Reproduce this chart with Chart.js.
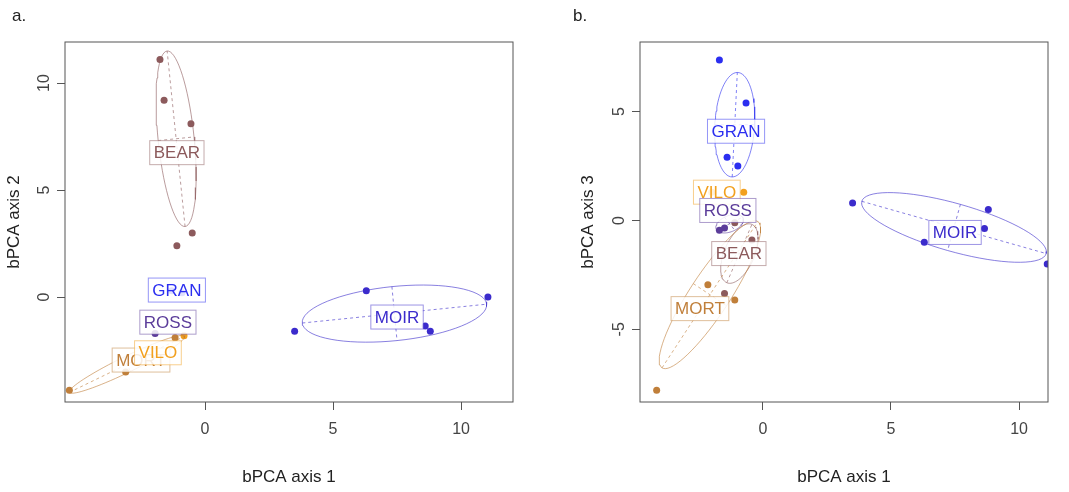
<!DOCTYPE html>
<html><head><meta charset="utf-8">
<script src="https://cdn.jsdelivr.net/npm/chart.js"></script>
<style>
body{margin:0;background:#fff;font-family:"Liberation Sans",Arial,sans-serif}
.wrap{position:absolute;top:0;height:492px}
</style></head><body>
<div class="wrap" style="left:0;width:534px"><canvas id="a"></canvas></div>
<div class="wrap" style="left:534px;width:535px"><canvas id="b"></canvas></div>
<script>
// populations and colours
const pops = ['BEAR','GRAN','ROSS','MOIR','MORT','VILO'];
const colors = {BEAR:'#8c5a5c', GRAN:'#2b2ef0', ROSS:'#5b3c9a', MOIR:'#3b2bcc', MORT:'#c07f3a', VILO:'#f2a01e'};

// panel a: axis 1 vs axis 2
const ptsA = {
  BEAR: [[-1.76,11.1],[-1.6,9.2],[-0.55,8.1],[-0.5,3.0],[-1.1,2.4]],
  GRAN: [[-1.3,0.3],[-0.9,0.2]],
  ROSS: [[-1.95,-1.7]],
  MOIR: [[6.3,0.3],[11.05,0],[3.5,-1.6],[8.6,-1.35],[8.8,-1.6]],
  MORT: [[-5.3,-4.35],[-3.1,-3.5],[-1.17,-1.9]],
  VILO: [[-0.82,-1.8]]
};
// ellipse: centre, major half-axis vector, minor half-axis vector
const ellA = {
  BEAR: [[-1.13,7.4],[-0.35,4.1],[0.7,0.085]],
  MOIR: [[7.4,-0.77],[3.6,0.44],[0.1,-1.26]],
  MORT: [[-3.05,-3.14],[2.25,1.31],[0.14,-0.33]]
};
const labA = {BEAR:[-1.1,6.75], GRAN:[-1.1,0.33], ROSS:[-1.45,-1.17], MOIR:[7.5,-0.93], MORT:[-2.5,-2.94], VILO:[-1.84,-2.6]};
const xTicksA = [0,5,10], yTicksA = [0,5,10];

// panel b: axis 1 vs axis 3
const ptsB = {
  GRAN: [[-1.7,7.37],[-0.66,5.4],[-1.4,2.9],[-0.98,2.5]],
  MOIR: [[3.5,0.8],[8.8,0.5],[6.3,-1.0],[8.65,-0.37],[11.1,-2.0]],
  VILO: [[-2.0,1.3],[-0.75,1.3]],
  ROSS: [[-1.7,-0.45],[-1.5,-0.35]],
  BEAR: [[-1.1,-0.1],[-0.43,-0.9],[-1.5,-3.35]],
  MORT: [[-2.15,-2.95],[-1.1,-3.65],[-4.15,-7.8]]
};
const ellB = {
  GRAN: [[-1.1,4.4],[0.1,2.4],[0.78,0]],
  MOIR: [[7.46,-0.32],[3.6,-1.2],[-0.25,-1.06]],
  MORT: [[-2.07,-3.41],[1.87,3.36],[0.65,-0.51]],
  BEAR: [[-0.92,-1.52],[0.49,1.34],[0.54,-0.27]],
  ROSS: [[-1.3,-0.15],[0.5,0.3],[0.2,-0.3]]
};
const labB = {GRAN:[-1.05,4.1], VILO:[-1.8,1.3], ROSS:[-1.37,0.46], BEAR:[-0.94,-1.52], MORT:[-2.46,-4.05], MOIR:[7.5,-0.55]};
const xTicksB = [0,5,10], yTicksB = [-5,0,5];

function ellipsePts(e){
  const out=[];
  for(let i=0;i<=72;i++){const t=i/72*2*Math.PI;
    out.push({x:e[0][0]+e[1][0]*Math.cos(t)+e[2][0]*Math.sin(t), y:e[0][1]+e[1][1]*Math.cos(t)+e[2][1]*Math.sin(t)});}
  return out;
}
function hexA(h,a){const n=parseInt(h.slice(1),16);return `rgba(${n>>16},${(n>>8)&255},${n&255},${a})`;}

function build(id, pts, ells, labs, xT, yT, xr, yr, yTitle, tag, padLeft, yW){
  const ds=[];
  for(const p in ells){
    const e=ells[p];
    ds.push({type:'line',data:ellipsePts(e),borderColor:hexA(colors[p],0.6),borderWidth:1,pointRadius:0,fill:false,tension:0});
    ds.push({type:'line',data:[{x:e[0][0]-e[1][0],y:e[0][1]-e[1][1]},{x:e[0][0]+e[1][0],y:e[0][1]+e[1][1]}],borderColor:hexA(colors[p],0.6),borderWidth:1,borderDash:[3,3],pointRadius:0});
    ds.push({type:'line',data:[{x:e[0][0]-e[2][0],y:e[0][1]-e[2][1]},{x:e[0][0]+e[2][0],y:e[0][1]+e[2][1]}],borderColor:hexA(colors[p],0.6),borderWidth:1,borderDash:[3,3],pointRadius:0});
  }
  for(const p in pts){
    ds.push({type:'scatter',data:pts[p].map(v=>({x:v[0],y:v[1]})),backgroundColor:colors[p],borderWidth:0,pointRadius:3.5});
  }
  const deco={id:'deco',afterDatasetsDraw(c){
    const ctx=c.ctx,a=c.chartArea,sx=c.scales.x,sy=c.scales.y;
    ctx.save();
    ctx.strokeStyle='#555';ctx.lineWidth=1;
    ctx.strokeRect(a.left,a.top,a.right-a.left,a.bottom-a.top);
    ctx.font='17px "Liberation Sans", Arial';ctx.textAlign='center';ctx.textBaseline='middle';
    for(const p in labs){
      const x=sx.getPixelForValue(labs[p][0]),y=sy.getPixelForValue(labs[p][1]);
      const w=ctx.measureText(p).width+8;
      ctx.fillStyle='rgba(255,255,255,0.85)';ctx.fillRect(x-w/2,y-12,w,24);
      ctx.strokeStyle=hexA(colors[p],0.5);ctx.strokeRect(x-w/2,y-12,w,24);
      ctx.fillStyle=colors[p];ctx.fillText(p,x,y+1);
    }
    // rotated y tick labels, R style
    ctx.fillStyle='#444';ctx.font='16px "Liberation Sans", Arial';
    for(const v of yT){const y=sy.getPixelForValue(v);
      ctx.save();ctx.translate(a.left-20,y);ctx.rotate(-Math.PI/2);ctx.fillText(String(v),0,0);ctx.restore();}
    ctx.font='17px "Liberation Sans", Arial';ctx.textAlign='left';ctx.fillStyle='#222';
    ctx.fillText(tag,padLeft===40?39:12,16);
    ctx.restore();
  }};
  new Chart(document.getElementById(id),{
    data:{datasets:ds},
    options:{responsive:true,maintainAspectRatio:false,animation:false,
      layout:{padding:{left:padLeft,right:21,top:42,bottom:0}},
      plugins:{legend:{display:false},tooltip:{enabled:false}},
      scales:{
        x:{type:'linear',min:xr[0],max:xr[1],grid:{drawOnChartArea:false,tickLength:8,color:'#555'},border:{display:false},
          afterBuildTicks:s=>{s.ticks=xT.map(v=>({value:v}));},
          afterFit:s=>{s.height=90;},
          ticks:{color:'#444',font:{size:16},padding:10},
          title:{display:true,text:'bPCA axis 1',color:'#222',font:{size:17},padding:{top:14}}},
        y:{type:'linear',min:yr[0],max:yr[1],grid:{drawOnChartArea:false,tickLength:8,color:'#555'},border:{display:false},
          afterBuildTicks:s=>{s.ticks=yT.map(v=>({value:v}));},
          afterFit:s=>{s.width=yW;},
          ticks:{display:false},
          title:{display:true,text:yTitle,color:'#222',font:{size:17}}}
      }}, plugins:[deco]});
}
build('a',ptsA,ellA,labA,xTicksA,yTicksA,[-5.47,12.03],[-4.9,11.92],'bPCA axis 2','a.',0,65);
build('b',ptsB,ellB,labB,xTicksB,yTicksB,[-4.8,11.13],[-8.34,8.2],'bPCA axis 3','b.',40,66);
</script></body></html>
